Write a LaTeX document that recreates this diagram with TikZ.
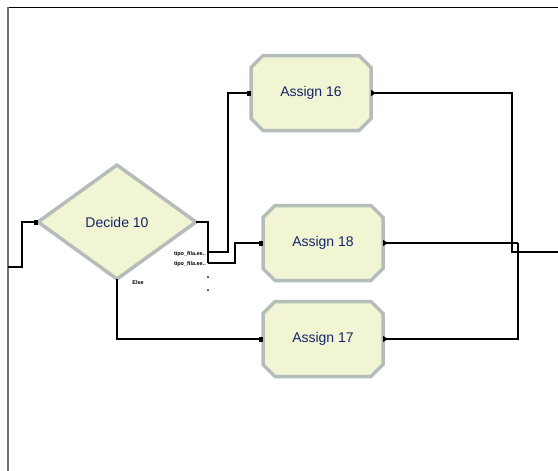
\documentclass[tikz,border=0pt]{standalone}
\usepackage{fontspec}
\setmainfont{Liberation Sans}
\usepackage{tikz}
\usetikzlibrary{
	arrows.meta,
	positioning,
	shapes.geometric,
	shapes.misc
}
\usepackage{xcolor}
\definecolor{modfill}{HTML}{F1F5D3}
\definecolor{modedge}{HTML}{B4BDB9}
\definecolor{modtext}{HTML}{16256A}
\tikzset{
	module/.style={chamfered rectangle, chamfered rectangle xsep=6pt,
		chamfered rectangle ysep=6pt, minimum width=120pt, minimum height=75pt,
		fill=modfill, draw=modedge, line width=3.5pt, text=modtext,
		font=\fontsize{14}{16}\selectfont, outer sep=0pt},
	decision/.style={diamond, aspect=1.4, minimum width=158pt, minimum height=114pt,
		fill=modfill, draw=modedge, line width=3.5pt, text=modtext,
		font=\fontsize{14}{16}\selectfont, outer sep=0pt, inner sep=0pt},
	link/.style={line width=1.1pt},
	inport/.style={arrows={-Square[length=4pt,width=5pt]}},
	outport/.style={arrows={Triangle[length=5pt,width=6pt,reversed]-}},
	portlabel/.style={font=\fontsize{5.5}{6}\bfseries, inner sep=0pt}
}

\begin{document}
\begin{tikzpicture}[x=1pt,y=-1pt,>=Stealth]
			\useasboundingbox (0,0) rectangle (558,471);
			
			% frame
			\draw[line width=1pt] (8,7)--(558,7);
			\draw[line width=1.6pt,black!55] (8,7)--(8,471);
			
			\node[decision] (dec) at (117,222){Decide 10};
			\node[module] (a16) at (311,93){Assign 16};
			\node[module] (a18) at (323,243){Assign 18};
			\node[module] (a17) at (323,339){Assign 17};
			
			\coordinate (in) at (8,267);
			\coordinate (br) at (208,222);
			\coordinate (o1) at (208,252);
			\coordinate (o2) at (208,263);
			\coordinate (mg) at (518,243);
			\coordinate (out) at (558,252);
			
			\draw[link,inport] (in)--(22,267)|-(dec.west);
			\draw[link] (dec.east)--(br)--(o2);
			\draw[link,inport] (o1)--(228,252)|-(a16.west);
			\draw[link,inport] (o2)--(235,263)|-(a18.west);
			\draw[link,inport] (dec.south)|-(a17.west);
			
			\draw[link,outport] (a16.east)-|(512,252)--(out);
			\draw[link,outport] (a18.east)--(mg);
			\draw[link,outport] (a17.east)-|(mg);
			
			\node[portlabel,anchor=east] (l1) at (206,254){tipo\_fila.ee..};
			\node[portlabel,anchor=east] (l2) at (206,264){tipo\_fila.ee..};
			\node[portlabel] (else) at (138,283){Else};
			\fill (208,277) circle (1pt);
			\fill (208,290) circle (1pt);
			
		\end{tikzpicture}
\end{document}
